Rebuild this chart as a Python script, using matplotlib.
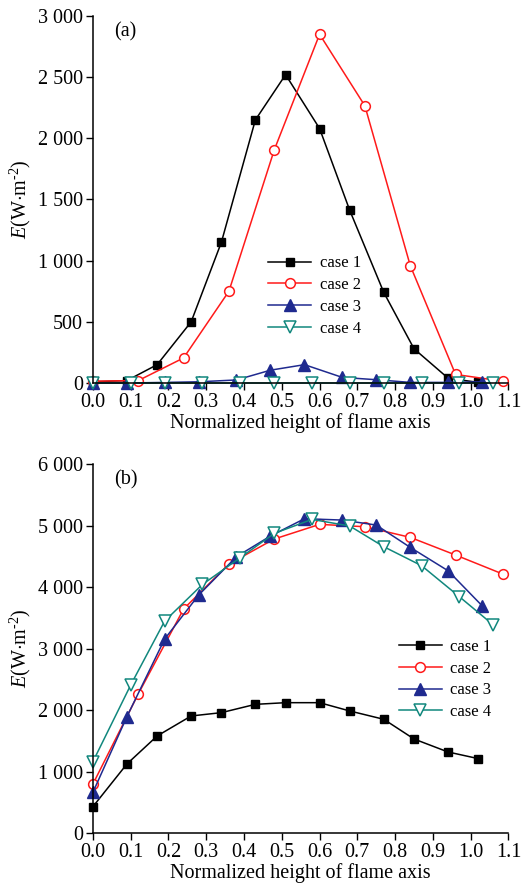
import matplotlib
matplotlib.use("Agg")
import matplotlib.pyplot as plt
from matplotlib.ticker import FuncFormatter, MultipleLocator

plt.rcParams['font.family'] = ['Liberation Serif', 'DejaVu Serif']
plt.rcParams['mathtext.fontset'] = 'custom'
plt.rcParams['mathtext.rm'] = 'Liberation Serif'
plt.rcParams['mathtext.it'] = 'Liberation Serif:italic'

# ---- Panel (a) data ----
a1_x = [0.0, 0.09, 0.17, 0.26, 0.34, 0.43, 0.51, 0.60, 0.68, 0.77, 0.85, 0.94, 1.02]
a1_y = [10, 20, 150, 500, 1150, 2150, 2520, 2080, 1410, 740, 280, 40, 5]
a2_x = [0.0, 0.12, 0.24, 0.36, 0.48, 0.60, 0.72, 0.84, 0.96, 1.085]
a2_y = [15, 20, 205, 750, 1905, 2850, 2265, 960, 70, 15]
a3_x = [0.0, 0.09, 0.19, 0.28, 0.38, 0.47, 0.56, 0.66, 0.75, 0.84, 0.94, 1.03]
a3_y = [0, 0, 5, 10, 25, 105, 150, 46, 27, 5, 5, 10]
a4_x = [0.0, 0.10, 0.19, 0.29, 0.39, 0.48, 0.58, 0.68, 0.77, 0.87, 0.97, 1.06]
a4_y = [0, 0, 0, 0, 0, 0, 0, 0, 0, 0, 0, 0]

# ---- Panel (b) data ----
b1_x = [0.0, 0.09, 0.17, 0.26, 0.34, 0.43, 0.51, 0.60, 0.68, 0.77, 0.85, 0.94, 1.02]
b1_y = [433, 1126, 1581, 1906, 1960, 2095, 2122, 2122, 1987, 1852, 1532, 1321, 1213]
b2_x = [0.0, 0.12, 0.24, 0.36, 0.48, 0.60, 0.72, 0.84, 0.96, 1.085]
b2_y = [800, 2263, 3644, 4375, 4781, 5019, 4981, 4808, 4521, 4212]
b3_x = [0.0, 0.09, 0.19, 0.28, 0.38, 0.47, 0.56, 0.66, 0.75, 0.84, 0.94, 1.03]
b3_y = [666, 1895, 3157, 3871, 4494, 4830, 5111, 5089, 5008, 4645, 4266, 3698]
b4_x = [0.0, 0.10, 0.19, 0.29, 0.39, 0.48, 0.58, 0.68, 0.77, 0.87, 0.97, 1.06]
b4_y = [1164, 2409, 3449, 4044, 4478, 4873, 5100, 4992, 4656, 4348, 3844, 3384]

labels = ['case 1', 'case 2', 'case 3', 'case 4']
colors = ['#000000', '#ff1a1a', '#1f2a8f', '#11877d']

fig = plt.figure(figsize=(5.28, 8.86), dpi=100)
ax_a = fig.add_axes([0.176, 0.5677, 0.787, 0.4143])
ax_b = fig.add_axes([0.176, 0.0595, 0.787, 0.4168])

def thousands(v, pos):
    v = int(round(v))
    if v >= 1000:
        return f"{v // 1000} {v % 1000:03d}"
    return f"{v}"

def draw(ax, series, ymax, ystep, tag, legend_loc):
    styles = [
        dict(marker='s', mfc=colors[0], mec=colors[0], ms=6),
        dict(marker='o', mfc='white', mec=colors[1], ms=7, mew=1.1),
        dict(marker='^', mfc=colors[2], mec=colors[2], ms=8),
        dict(marker='v', mfc='white', mec=colors[3], ms=8, mew=1.1),
    ]
    for (x, y), lab, c, st in zip(series, labels, colors, styles):
        ax.plot(x, y, color=c, lw=1.1, label=lab, clip_on=False, **st)
    ax.set_xlim(0, 1.1)
    ax.set_ylim(0, ymax)
    ax.xaxis.set_major_locator(MultipleLocator(0.1))
    ax.xaxis.set_major_formatter(FuncFormatter(lambda v, p: f"{v:.1f}"))
    ax.yaxis.set_major_locator(MultipleLocator(ystep))
    ax.yaxis.set_major_formatter(FuncFormatter(thousands))
    for s in ['top', 'right']:
        ax.spines[s].set_visible(False)
    for s in ['left', 'bottom']:
        ax.spines[s].set_linewidth(1.1)
    ax.tick_params(direction='out', length=5, width=1.0, labelsize=14.5, pad=2)
    ax.set_xlabel('Normalized height of flame axis', fontsize=14.5, labelpad=1)
    ax.set_ylabel(r'$E$(W$\cdot$m$^{\text{-}2}$)', fontsize=14.5, labelpad=4)
    ax.text(0.05, 0.958, tag, transform=ax.transAxes, fontsize=14.5, va='center')
    leg = ax.legend(loc='upper left', bbox_to_anchor=legend_loc, frameon=False,
                    fontsize=12, handlelength=2.6, handletextpad=0.5,
                    labelspacing=0.35, borderaxespad=0)
    return leg

draw(ax_a, [(a1_x, a1_y), (a2_x, a2_y), (a3_x, a3_y), (a4_x, a4_y)],
     3000, 500, '(a)', (0.405, 0.366))
draw(ax_b, [(b1_x, b1_y), (b2_x, b2_y), (b3_x, b3_y), (b4_x, b4_y)],
     6000, 1000, '(b)', (0.72, 0.545))

fig.savefig('out.png', dpi=100, facecolor='white')
